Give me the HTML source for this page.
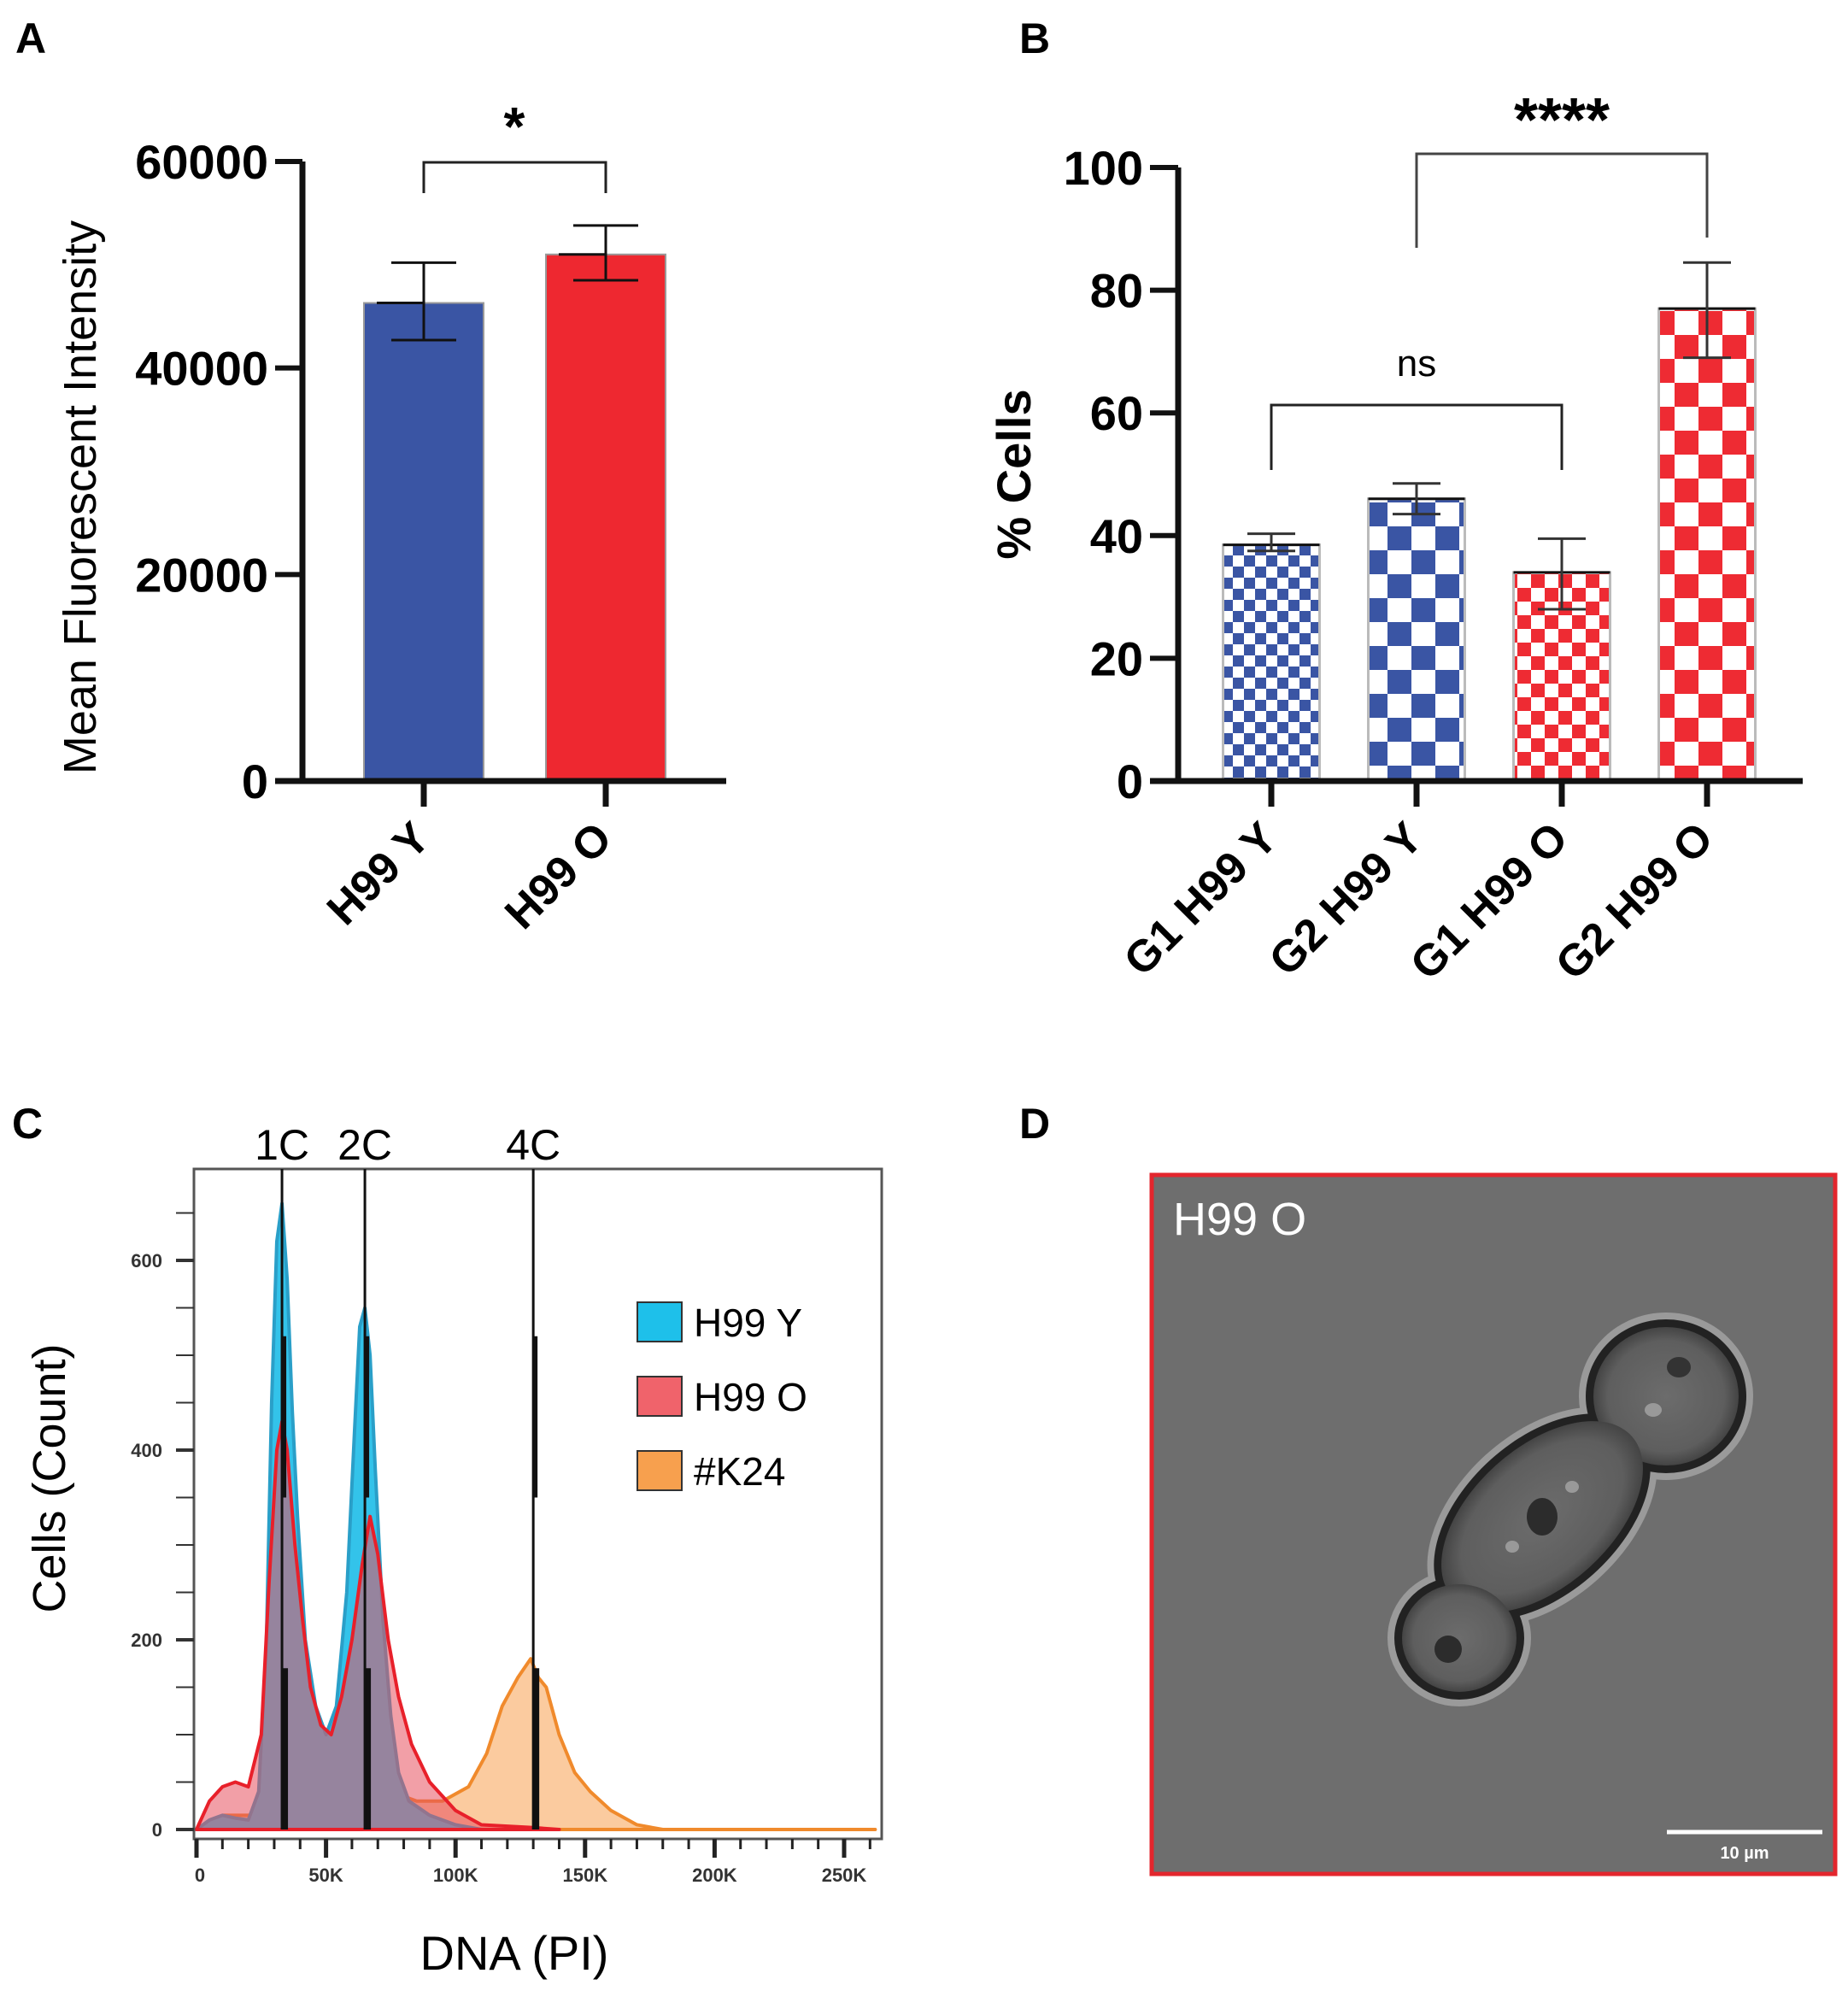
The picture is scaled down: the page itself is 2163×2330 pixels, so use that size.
<!DOCTYPE html>
<html><head><meta charset="utf-8">
<style>
html,body{margin:0;padding:0;background:#fff;}
svg{display:block;font-family:"Liberation Sans",Arial,sans-serif;}
</style></head>
<body>
<svg id="fig" width="2163" height="2330" viewBox="0 0 2163 2330" xmlns="http://www.w3.org/2000/svg">
<defs>
<pattern id="pBs" width="26" height="26" patternUnits="userSpaceOnUse"><rect width="26" height="26" fill="#fff"/><rect width="13" height="13" fill="#3a55a4"/><rect x="13" y="13" width="13" height="13" fill="#3a55a4"/></pattern>
<pattern id="pBl" width="56" height="56" patternUnits="userSpaceOnUse"><rect width="56" height="56" fill="#fff"/><rect width="28" height="28" fill="#3a55a4"/><rect x="28" y="28" width="28" height="28" fill="#3a55a4"/></pattern>
<pattern id="pRs" width="32" height="32" patternUnits="userSpaceOnUse"><rect width="32" height="32" fill="#fff"/><rect width="16" height="16" fill="#ee2b33"/><rect x="16" y="16" width="16" height="16" fill="#ee2b33"/></pattern>
<pattern id="pRl" width="56" height="56" patternUnits="userSpaceOnUse"><rect width="56" height="56" fill="#fff"/><rect width="28" height="28" fill="#ee2b33"/><rect x="28" y="28" width="28" height="28" fill="#ee2b33"/></pattern>
<radialGradient id="cellg" cx="50%" cy="50%" r="50%"><stop offset="0" stop-color="#6c6c6c"/><stop offset="0.8" stop-color="#5e5e5e"/><stop offset="1" stop-color="#444"/></radialGradient>
</defs>
<g id="A"></g>
<g id="B"></g>
<g id="C"></g>
<g id="D">
  <text x="1193" y="1332" font-size="50" font-weight="bold">D</text>
  <rect x="1348" y="1375" width="800" height="818" fill="#6e6e6e" stroke="#e3262d" stroke-width="5"/>
  <g>
    <ellipse cx="1950" cy="1634" rx="102" ry="98" fill="#9a9a9a"/>
    <ellipse cx="1805" cy="1775" rx="158" ry="98" transform="rotate(-42 1805 1775)" fill="#9a9a9a"/>
    <ellipse cx="1708" cy="1917" rx="84" ry="80" fill="#9a9a9a"/>
    <ellipse cx="1950" cy="1634" rx="94" ry="90" fill="#222"/>
    <ellipse cx="1805" cy="1775" rx="150" ry="90" transform="rotate(-42 1805 1775)" fill="#222"/>
    <ellipse cx="1708" cy="1917" rx="76" ry="72" fill="#222"/>
    <ellipse cx="1950" cy="1634" rx="85" ry="81" fill="url(#cellg)"/>
    <ellipse cx="1805" cy="1775" rx="141" ry="81" transform="rotate(-42 1805 1775)" fill="url(#cellg)"/>
    <ellipse cx="1708" cy="1917" rx="67" ry="63" fill="url(#cellg)"/>
    <ellipse cx="1805" cy="1775" rx="18" ry="22" fill="#2c2c2c"/>
    <ellipse cx="1695" cy="1930" rx="16" ry="16" fill="#2c2c2c"/>
    <ellipse cx="1965" cy="1600" rx="14" ry="12" fill="#333"/>
    <ellipse cx="1935" cy="1650" rx="10" ry="8" fill="#999"/>
    <ellipse cx="1840" cy="1740" rx="8" ry="7" fill="#999"/>
    <ellipse cx="1770" cy="1810" rx="8" ry="7" fill="#999"/>
  </g>
  <text x="1373" y="1445" font-size="54" fill="#fff">H99 O</text>
  <line x1="1951" y1="2144" x2="2133" y2="2144" stroke="#fff" stroke-width="5"/>
  <text x="2042" y="2175" font-size="20" font-weight="bold" fill="#fff" text-anchor="middle">10 µm</text>
</g>
</svg>
<script>
const NS="http://www.w3.org/2000/svg";
function mk(parent,tag,attrs,txt){const e=document.createElementNS(NS,tag);for(const k in attrs)e.setAttribute(k,attrs[k]);if(txt!==undefined)e.textContent=txt;parent.appendChild(e);return e;}

// ---------- Panel A data ----------
const aCats=["H99 Y","H99 O"];
const aVals=[46300,51000];
const aErrLo=[42700,48500];
const aErrHi=[50200,53800];
const aTicks=[0,20000,40000,60000];

// ---------- Panel B data ----------
const bCats=["G1 H99 Y","G2 H99 Y","G1 H99 O","G2 H99 O"];
const bVals=[38.5,46,34,77];
const bErrLo=[37.5,43.5,28,69];
const bErrHi=[40.3,48.5,39.5,84.5];
const bTicks=[0,20,40,60,80,100];

// ---------- Panel C data ----------
const cXTicks=[0,50,100,150,200,250];
const cYTicks=[0,200,400,600];
const yX=[0,5,10,15,20,24,27,29,31,33,35,37,39,42,46,50,54,58,61,63,65,67,69,72,75,78,82,90,100,110];
const yC=[0,10,15,12,10,40,200,450,620,660,580,440,330,200,130,100,130,250,420,530,550,500,380,220,120,60,30,15,5,0];
const oX=[0,5,10,15,20,25,28,31,33,35,38,41,44,48,52,56,60,64,67,70,74,78,83,90,100,110,130,140];
const oC=[0,30,45,50,45,100,260,400,430,400,300,220,150,110,100,140,200,280,330,290,200,140,90,50,20,5,2,0];
const kX=[0,10,20,40,55,60,64,67,70,75,85,95,105,112,118,124,129,132,135,140,146,152,160,170,180,262];
const kC=[0,15,15,15,20,40,80,90,70,40,30,30,45,80,130,160,180,160,150,100,60,40,20,5,0,0];
const cMarks=[{l:"1C",x:33},{l:"2C",x:65},{l:"4C",x:130}];

// ===== Panel A =====
(function(){
 const g=document.getElementById('A');
 const x0=354,y0=914,yTop=189,max=60000;
 const ys=v=>y0-(v/max)*(y0-yTop);
 const xc=[496,709],bw=140;
 mk(g,'text',{x:18,y:62,'font-size':50,'font-weight':'bold',},'A');
 aVals.forEach((v,i)=>{
  const r=mk(g,'rect',{x:xc[i]-bw/2,y:ys(v),width:bw,height:y0-ys(v),fill:i?'#ee2830':'#3a55a4',stroke:'#999','stroke-width':2});
  
  
  mk(g,'line',{x1:xc[i]-55,x2:xc[i],y1:ys(v),y2:ys(v),stroke:'#111','stroke-width':3});
  const e=mk(g,'path',{d:`M${xc[i]} ${ys(aErrLo[i])}V${ys(aErrHi[i])}M${xc[i]-38} ${ys(aErrHi[i])}H${xc[i]+38}M${xc[i]-38} ${ys(aErrLo[i])}H${xc[i]+38}`,stroke:'#111','stroke-width':3,fill:'none'});
  
  
  const t=mk(g,'text',{x:xc[i]+10,y:y0+70,'font-size':52,'font-weight':'bold','text-anchor':'end',transform:`rotate(-45 ${xc[i]+10} ${y0+70})`},aCats[i]);
  
  
  mk(g,'line',{x1:xc[i],x2:xc[i],y1:y0,y2:y0+30,stroke:'#111','stroke-width':7});
 });
 mk(g,'line',{x1:x0,y1:y0+3,x2:x0,y2:yTop,stroke:'#111','stroke-width':7,});
 mk(g,'line',{x1:322,y1:y0,x2:850,y2:y0,stroke:'#111','stroke-width':7,});
 aTicks.forEach(v=>{
  mk(g,'line',{x1:322,x2:x0,y1:ys(v),y2:ys(v),stroke:'#111','stroke-width':6});
  const t=mk(g,'text',{x:314,y:ys(v)+20,'font-size':56,'font-weight':'bold','text-anchor':'end'},String(v));
  
  
 });
 mk(g,'text',{x:112,y:582,'font-size':54,'text-anchor':'middle',transform:'rotate(-90 112 582)',},'Mean Fluorescent Intensity');
 mk(g,'path',{d:`M${xc[0]} 226V190H${xc[1]}V226`,stroke:'#222','stroke-width':3,fill:'none',});
 mk(g,'text',{x:602,y:170,'font-size':64,'font-weight':'bold','text-anchor':'middle',},'*');
})();

// ===== Panel B =====
(function(){
 const g=document.getElementById('B');
 const x0=1379,y0=914,yTop=196,max=100;
 const ys=v=>y0-(v/max)*(y0-yTop);
 const xc=[1488,1658,1828,1998],bw=113;
 const fills=['url(#pBs)','url(#pBl)','url(#pRs)','url(#pRl)'];
 mk(g,'text',{x:1193,y:62,'font-size':50,'font-weight':'bold',},'B');
 bVals.forEach((v,i)=>{
  const r=mk(g,'rect',{x:xc[i]-bw/2,y:ys(v),width:bw,height:y0-ys(v),fill:fills[i],stroke:'#bbb','stroke-width':3});
  
  
  mk(g,'line',{x1:xc[i]-bw/2,x2:xc[i]+bw/2,y1:ys(v),y2:ys(v),stroke:'#111','stroke-width':3});
  const e=mk(g,'path',{d:`M${xc[i]} ${ys(bErrLo[i])}V${ys(bErrHi[i])}M${xc[i]-28} ${ys(bErrHi[i])}H${xc[i]+28}M${xc[i]-28} ${ys(bErrLo[i])}H${xc[i]+28}`,stroke:'#333','stroke-width':3,fill:'none'});
  
  
  mk(g,'line',{x1:xc[i],x2:xc[i],y1:y0,y2:y0+30,stroke:'#111','stroke-width':7});
  const t=mk(g,'text',{x:xc[i]+10,y:y0+70,'font-size':52,'font-weight':'bold','text-anchor':'end',transform:`rotate(-45 ${xc[i]+10} ${y0+70})`},bCats[i]);
  
  
 });
 mk(g,'line',{x1:x0,y1:y0+3,x2:x0,y2:yTop,stroke:'#111','stroke-width':7,});
 mk(g,'line',{x1:1346,y1:y0,x2:2110,y2:y0,stroke:'#111','stroke-width':7,});
 bTicks.forEach(v=>{
  mk(g,'line',{x1:1346,x2:x0,y1:ys(v),y2:ys(v),stroke:'#111','stroke-width':6});
  const t=mk(g,'text',{x:1338,y:ys(v)+20,'font-size':56,'font-weight':'bold','text-anchor':'end'},String(v));
  
  
 });
 mk(g,'text',{x:1206,y:555,'font-size':56,'font-weight':'bold','text-anchor':'middle',transform:'rotate(-90 1206 555)',},'% Cells');
 mk(g,'path',{d:`M${xc[0]} 550V474H${xc[2]}V550`,stroke:'#222','stroke-width':3,fill:'none',});
 mk(g,'text',{x:1658,y:440,'font-size':44,'text-anchor':'middle',},'ns');
 mk(g,'path',{d:`M${xc[1]} 290V180H${xc[3]}V278`,stroke:'#444','stroke-width':3,fill:'none',});
 mk(g,'text',{x:1828,y:165,'font-size':72,'font-weight':'bold','text-anchor':'middle',},'****');
})();

// ===== Panel C =====
(function(){
 const g=document.getElementById('C');
 const L=227,R=1032,T=1368,B=2152;
 const xs=k=>230+(k/250)*(988-230);
 const ys=c=>2141-(c/600)*(2141-1475);
 mk(g,'text',{x:14,y:1332,'font-size':50,'font-weight':'bold',},'C');
 function area(X,C,fill,stroke,name){
  let d=`M${xs(X[0])} ${ys(0)}`;
  X.forEach((x,i)=>{d+=`L${xs(x)} ${ys(C[i])}`;});
  d+=`L${xs(X[X.length-1])} ${ys(0)}Z`;
  const p=mk(g,'path',{d:d,fill:fill,stroke:stroke,'stroke-width':4,'stroke-linejoin':'round'});
  
  
 }
 area(kX,kC,'rgba(247,160,80,0.55)','#f08a2c','histogram-k24');
 area(yX,yC,'#33c3ea','#2a9fc8','histogram-h99-y');
 area(oX,oC,'rgba(232,80,95,0.55)','#e8202a','histogram-h99-o');
 mk(g,'rect',{x:L,y:T,width:R-L,height:B-T,fill:'none',stroke:'#555','stroke-width':3,});
 for(let c=0;c<=650;c+=50){
  mk(g,'line',{x1:206,x2:L,y1:ys(c),y2:ys(c),stroke:'#333','stroke-width':c%200===0?4:2});
 }
 cYTicks.forEach(c=>{
  const t=mk(g,'text',{x:190,y:ys(c)+8,'font-size':22,'font-weight':'bold','text-anchor':'end',fill:'#333'},String(c));
  
  
 });
 for(let k=0;k<=260;k+=10){
  mk(g,'line',{x1:xs(k),x2:xs(k),y1:B,y2:B+(k%50===0?22:12),stroke:'#222','stroke-width':k%50===0?5:3});
 }
 cXTicks.forEach(k=>{
  const t=mk(g,'text',{x:xs(k)+(k?0:4),y:B+50,'font-size':22,'font-weight':'bold','text-anchor':'middle',fill:'#333'},k?k+'K':'0');
  
  
 });
 cMarks.forEach(m=>{
  const l=mk(g,'line',{x1:xs(m.x),x2:xs(m.x),y1:T,y2:ys(0),stroke:'#111','stroke-width':3});
  
  
  mk(g,'line',{x1:xs(m.x)+2,x2:xs(m.x)+2,y1:ys(520),y2:ys(350),stroke:'#111','stroke-width':6});
  mk(g,'line',{x1:xs(m.x)+4,x2:xs(m.x)+4,y1:ys(170),y2:ys(0),stroke:'#111','stroke-width':6});
  const t=mk(g,'text',{x:xs(m.x),y:1357,'font-size':50,'text-anchor':'middle'},m.l);
  
  
 });
 const leg=[["H99 Y","#1ec0ea"],["H99 O","#f0636b"],["#K24","#f7a04e"]];
 leg.forEach((e,i)=>{
  const y=1524+i*87;
  const s=mk(g,'rect',{x:746,y:y,width:52,height:46,fill:e[1],stroke:'#333','stroke-width':2});
  
  
  const t=mk(g,'text',{x:812,y:y+40,'font-size':46},e[0]);
  
  
 });
 mk(g,'text',{x:76,y:1730,'font-size':54,'text-anchor':'middle',transform:'rotate(-90 76 1730)',},'Cells (Count)');
 mk(g,'text',{x:602,y:2305,'font-size':56,'text-anchor':'middle',},'DNA (PI)');
})();
</script>
</body></html>
